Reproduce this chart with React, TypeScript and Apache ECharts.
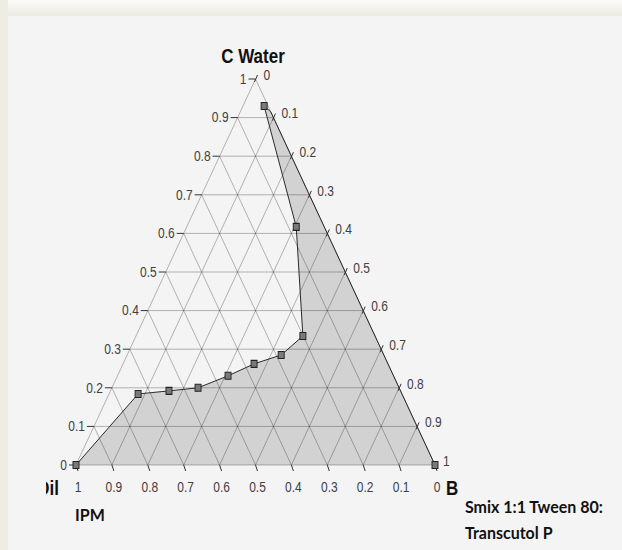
import React, { useEffect, useRef } from "react";
import * as echarts from "echarts";

// axis ticks (fractions) and their labels
const tickValues = [0, 0.1, 0.2, 0.3, 0.4, 0.5, 0.6, 0.7, 0.8, 0.9, 1];
const tickLabels = ["0", "0.1", "0.2", "0.3", "0.4", "0.5", "0.6", "0.7", "0.8", "0.9", "1"];

// measured phase-boundary points (ternary fractions)
const waterFraction = [0, 0.184, 0.192, 0.2, 0.231, 0.262, 0.285, 0.334, 0.617, 0.93];
const smixFraction = [0, 0.081, 0.163, 0.24, 0.308, 0.365, 0.429, 0.465, 0.305, 0.059];

// where the region meets the B–Water edge, then the B vertex
const edgeWater = [0.915, 0];
const edgeSmix = [0.085, 1];

const FONT = "'Liberation Sans', Arial, sans-serif";
const FONT2 = "Lato, 'Liberation Sans', sans-serif";
const STRETCH = 1.2;

const toXY = (b: number, c: number) => [b + 0.5 * c, c];

export default function App() {
  const ref = useRef<HTMLDivElement>(null);
  useEffect(() => {
    if (!ref.current) return;
    const chart = echarts.init(ref.current, undefined, { renderer: "svg" });

    const curve = waterFraction.map((c, i) => toXY(smixFraction[i], c));
    const edge = edgeWater.map((c, i) => toXY(edgeSmix[i], c));
    const regionPts = [...curve, ...edge];

    const boundaryData: any[] = curve.map((p) => ({ value: p }));
    boundaryData.push({ value: edge[0], symbol: "none" });
    boundaryData.push({ value: edge[1] });

    const gridStroke = "rgba(0,0,0,0.28)";
    const labelColor = "#404040";

    const txt = (x: number, y: number, text: string, align: string, extra: any = {}) => ({
      type: "text",
      x,
      y,
      scaleY: extra.scaleY || STRETCH,
      silent: true,
      style: {
        text,
        fill: extra.fill || labelColor,
        font: extra.font || `12px ${FONT}`,
        align,
        textAlign: align,
        verticalAlign: "middle",
        textVerticalAlign: "middle",
      },
    });

    const option: any = {
      animation: false,
      backgroundColor: "#f4f4f4",
      grid: { left: 76, top: 79, width: 359, height: 386 },
      xAxis: { type: "value", min: 0, max: 1, show: false },
      yAxis: { type: "value", min: 0, max: 1, show: false },
      graphic: [
        {
          type: "rect",
          shape: { x: 0, y: 0, width: 622, height: 16 },
          style: {
            fill: new echarts.graphic.LinearGradient(0, 0, 0, 1, [
              { offset: 0, color: "#fcfcfa" },
              { offset: 1, color: "#ebeae2" },
            ]),
          },
          silent: true,
        },
        {
          type: "rect",
          shape: { x: 0, y: 0, width: 8, height: 550 },
          style: { fill: "#eeede4" },
          silent: true,
        },
        txt(253, 56, "C Water", "center", { font: `bold 17px ${FONT}`, fill: "#111" }),
        txt(59, 488, "Oil", "right", { font: `bold 17px ${FONT}`, fill: "#111" }),
        {
          type: "rect",
          shape: { x: 20, y: 474, width: 26, height: 28 },
          style: { fill: "#f4f4f4" },
          silent: true,
          z: 100,
        },
        txt(446, 488, "B", "left", { font: `bold 17px ${FONT}`, fill: "#111" }),
        txt(75, 514, "IPM", "left", { font: `bold 16px ${FONT2}`, fill: "#111", scaleY: 1.05 }),
        txt(465, 506, "Smix 1:1 Tween 80:", "left", { font: `bold 16px ${FONT2}`, fill: "#111", scaleY: 1.05 }),
        txt(465, 532, "Transcutol P", "left", { font: `bold 16px ${FONT2}`, fill: "#111", scaleY: 1.05 }),
      ],
      series: [
        {
          type: "custom",
          z: 1,
          silent: true,
          data: regionPts,
          renderItem: (params: any, api: any) => {
            if (params.dataIndex !== 0) return null;
            return {
              type: "polygon",
              shape: { points: regionPts.map((p) => api.coord(p)) },
              style: { fill: "#d2d2d2", stroke: "none" },
            };
          },
        },
        {
          type: "custom",
          z: 2,
          silent: true,
          data: tickValues.map((v) => [v, v]),
          renderItem: (params: any, api: any) => {
            const v = tickValues[params.dataIndex];
            const seg = (a: number[], b: number[]) => {
              const p1 = api.coord(a);
              const p2 = api.coord(b);
              return {
                type: "line",
                shape: { x1: p1[0], y1: p1[1], x2: p2[0], y2: p2[1] },
                style: { stroke: gridStroke, lineWidth: 1 },
              };
            };
            return {
              type: "group",
              children: [
                seg(toXY(0, v), toXY(1 - v, v)),
                seg(toXY(v, 0), toXY(v, 1 - v)),
                seg(toXY(1 - v, 0), toXY(0, 1 - v)),
              ],
            };
          },
        },
        {
          type: "custom",
          z: 3,
          silent: true,
          data: tickValues.map((v) => [v, v]),
          renderItem: (params: any, api: any) => {
            const i = params.dataIndex;
            const v = tickValues[i];
            const label = tickLabels[i];
            const L = api.coord(toXY(0, v));
            const R = api.coord(toXY(v, 1 - v));
            const Bt = api.coord(toXY(1 - v, 0));
            const tick = (x1: number, y1: number, x2: number, y2: number) => ({
              type: "line",
              shape: { x1, y1, x2, y2 },
              style: { stroke: "#333", lineWidth: 1 },
            });
            return {
              type: "group",
              children: [
                tick(L[0] - 7, L[1], L[0], L[1]),
                txt(L[0] - 9, L[1], label, "right"),
                tick(R[0] - 1, R[1] + 3, R[0] + 2, R[1] - 4),
                txt(R[0] + 8, R[1] - 4, label, "left"),
                tick(Bt[0], Bt[1], Bt[0] + 2, Bt[1] + 6),
                txt(Bt[0] + 2, Bt[1] + 22, label, "center"),
              ],
            };
          },
        },
        {
          type: "line",
          z: 4,
          silent: true,
          data: boundaryData,
          smooth: false,
          symbol: "rect",
          symbolSize: [6, 7],
          showAllSymbol: true,
          lineStyle: { color: "#2a2a2a", width: 1 },
          itemStyle: { color: "#7a7a7a", borderColor: "#222", borderWidth: 1 },
        },
      ],
    };

    chart.setOption(option);
    return () => chart.dispose();
  }, []);

  return (
    <div
      ref={ref}
      style={{ position: "fixed", left: 0, top: 0, width: 622, height: 550 }}
    />
  );
}
